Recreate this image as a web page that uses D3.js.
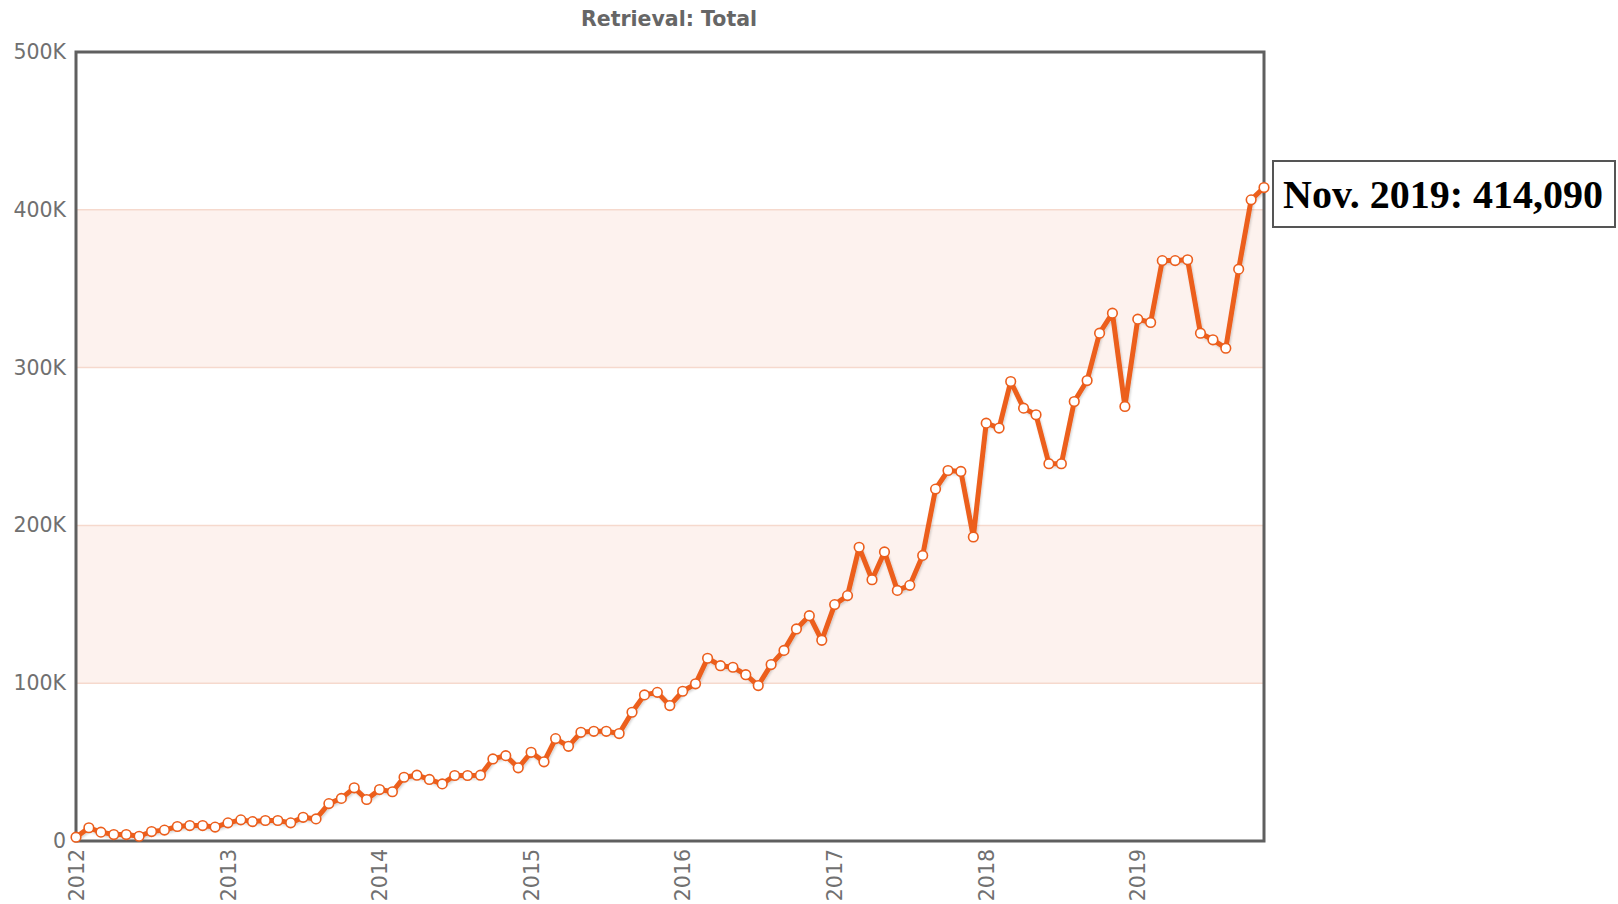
<!DOCTYPE html>
<html>
<head>
<meta charset="utf-8">
<script src="https://cdn.jsdelivr.net/npm/d3@7"></script>
<style>
  html, body { margin: 0; padding: 0; background: #fff; }
  svg { display: block; font-family: "DejaVu Sans", Verdana, sans-serif; }
</style>
</head>
<body>
<svg id="chart" width="1618" height="904"></svg>
<script>
// monthly totals, Jan 2012 .. Nov 2019
const startYear = 2012;
const values = [
  2400, 8400, 5600, 4100, 4100, 3000, 6000, 6900, 9200, 9800, 9800, 8800,
  11500, 13400, 12300, 13000, 13000, 11500, 15000, 14000, 23700, 27000, 33700, 26300,
  32600, 31200, 40400, 41700, 39000, 36200, 41500, 41500, 41700, 52000, 54100, 46400,
  56200, 50200, 64900, 60000, 68900, 69500, 69500, 68100, 81600, 92600, 94200, 85800,
  94900, 99600, 115800, 111100, 110100, 105400, 98500, 111800, 120800, 134400, 142800, 127200,
  149800, 155500, 186100, 165600, 183200, 158800, 162000, 181000, 223000, 234800, 234200, 192700,
  264800, 261700, 291200, 274300, 270100, 239100, 239100, 278500, 291800, 321800, 334500, 275400,
  330700, 328600, 367800, 367800, 368300, 321800, 317600, 312300, 362400, 406300, 414090
];
const yearTicks = [2012, 2013, 2014, 2015, 2016, 2017, 2018, 2019];
const yTicks = [0, 100000, 200000, 300000, 400000, 500000];
const bands = [[100000, 200000], [300000, 400000]];
const title = "Retrieval: Total";
const callout = "Nov. 2019: 414,090";

const data = values.map((v, i) => ({ date: new Date(startYear, i, 1), value: v }));

const svg = d3.select("#chart");
const plotLeft = 76, plotRight = 1264, plotTop = 52, plotBottom = 841;
const orange = "#ec5e1c";

const x = d3.scaleTime()
  .domain(d3.extent(data, d => d.date))
  .range([plotLeft, plotRight]);

const y = d3.scaleLinear()
  .domain([0, 500000])
  .range([plotBottom, plotTop]);

// shadow for the series line
const defs = svg.append("defs");
const f = defs.append("filter").attr("id", "shadow")
  .attr("x", "-5%").attr("y", "-5%").attr("width", "110%").attr("height", "110%");
f.append("feDropShadow")
  .attr("dx", 1).attr("dy", 1.5).attr("stdDeviation", 1.2)
  .attr("flood-color", "#000").attr("flood-opacity", 0.18);

// alternate bands
svg.append("g").selectAll("rect")
  .data(bands)
  .enter()
  .append("rect")
  .attr("x", plotLeft)
  .attr("y", d => y(d[1]))
  .attr("width", plotRight - plotLeft)
  .attr("height", d => y(d[0]) - y(d[1]))
  .attr("fill", "#fdf2ee");

// grid lines
svg.append("g").selectAll("line")
  .data(yTicks.slice(1, -1))
  .enter()
  .append("line")
  .attr("x1", plotLeft).attr("x2", plotRight)
  .attr("y1", d => y(d)).attr("y2", d => y(d))
  .attr("stroke", "#f6d9cd")
  .attr("stroke-width", 1.5);

// y axis labels
const yAxis = svg.append("g")
  .attr("transform", "translate(" + plotLeft + ",0)")
  .call(d3.axisLeft(y)
    .tickValues(yTicks)
    .tickSize(0)
    .tickPadding(10)
    .tickFormat(d => d === 0 ? "0" : (d / 1000) + "K"));
yAxis.select(".domain").remove();
yAxis.selectAll("text")
  .attr("font-size", 20.5)
  .attr("font-family", "DejaVu Sans, Verdana, sans-serif")
  .attr("fill", "#707070");

// x axis labels (rotated)
const xAxis = svg.append("g")
  .attr("transform", "translate(0," + plotBottom + ")")
  .call(d3.axisBottom(x)
    .tickValues(yearTicks.map(yr => new Date(yr, 0, 1)))
    .tickSize(0)
    .tickFormat(d3.timeFormat("%Y")));
xAxis.select(".domain").remove();
xAxis.selectAll("text")
  .attr("font-size", 20.5)
  .attr("font-family", "DejaVu Sans, Verdana, sans-serif")
  .attr("fill", "#707070")
  .attr("transform", "rotate(-90)")
  .attr("x", -8)
  .attr("y", 0)
  .attr("dy", "0.35em")
  .style("text-anchor", "end");

// plot frame
svg.append("rect")
  .attr("x", plotLeft).attr("y", plotTop)
  .attr("width", plotRight - plotLeft).attr("height", plotBottom - plotTop)
  .attr("fill", "none")
  .attr("stroke", "#5f5f5f")
  .attr("stroke-width", 3);

// line
const line = d3.line()
  .x(d => x(d.date))
  .y(d => y(d.value));

svg.append("path")
  .datum(data)
  .attr("d", line)
  .attr("fill", "none")
  .attr("stroke", orange)
  .attr("stroke-width", 5)
  .attr("stroke-linejoin", "round")
  .attr("filter", "url(#shadow)");

// markers
svg.append("g").selectAll("circle")
  .data(data)
  .enter()
  .append("circle")
  .attr("cx", d => x(d.date))
  .attr("cy", d => y(d.value))
  .attr("r", 4.8)
  .attr("fill", "#fff")
  .attr("stroke", orange)
  .attr("stroke-width", 1.6);

// title
svg.append("text")
  .attr("x", 669)
  .attr("y", 26)
  .attr("text-anchor", "middle")
  .attr("font-size", 20.5)
  .attr("font-weight", "bold")
  .attr("font-family", "DejaVu Sans, Verdana, sans-serif")
  .attr("fill", "#666")
  .text(title);

// callout box for last value
const box = svg.append("g");
box.append("rect")
  .attr("x", 1273).attr("y", 161)
  .attr("width", 342).attr("height", 66)
  .attr("fill", "#fff")
  .attr("stroke", "#555")
  .attr("stroke-width", 2);
box.append("text")
  .attr("x", 1443)
  .attr("y", 194)
  .attr("dy", "0.35em")
  .attr("text-anchor", "middle")
  .attr("font-family", "Liberation Serif, Times New Roman, serif")
  .attr("font-weight", "bold")
  .attr("font-size", 40)
  .attr("fill", "#000")
  .text(callout);
</script>
</body>
</html>
